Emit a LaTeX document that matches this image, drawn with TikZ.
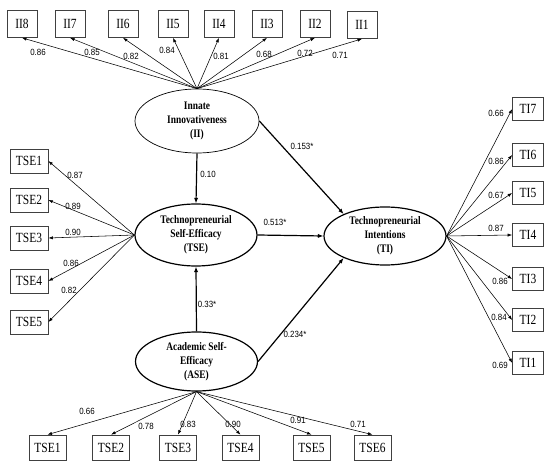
\documentclass[tikz,border=0pt]{standalone}
\usepackage{fontspec}
\setmainfont{Liberation Serif}
\newfontfamily\boxfont[FakeStretch=0.82]{Liberation Serif}
\newfontfamily\latfont[FakeStretch=0.82]{Liberation Serif}
\newfontfamily\numfont[FakeStretch=0.88]{Liberation Sans}
\usetikzlibrary{arrows.meta,shapes.geometric}
\tikzset{
  ind/.style={draw=black!75, line width=0.7pt, inner sep=0pt, font=\boxfont\fontsize{14}{14}\selectfont},
  topbox/.style={ind, minimum width=30pt, minimum height=27pt},
  leftbox/.style={ind, minimum width=38pt, minimum height=24pt},
  rightbox/.style={ind, minimum width=31pt, minimum height=23pt},
  botbox/.style={ind, minimum width=37pt, minimum height=25pt},
  lat/.style={ellipse, draw, line width=1.2pt, inner sep=0pt, align=center,
    font=\latfont\bfseries\fontsize{11.5}{14}\selectfont},
  coef/.style={font=\numfont\fontsize{9}{10}\selectfont, inner sep=0pt},
  load/.style={-{Latex[length=4.5pt,width=3.2pt]}, line width=0.55pt},
  spath/.style={-{Latex[length=5.5pt,width=4.2pt]}, line width=1.2pt}
}
\begin{document}
\begin{tikzpicture}[x=1pt,y=1pt]
\useasboundingbox (0,0) rectangle (550,-468);
% latent variables
\node[lat, line width=0.7pt, minimum width=124pt, minimum height=64pt] (ii) at (197,-121) {Innate\\Innovativeness\\(II)};
\node[lat, minimum width=122pt, minimum height=62pt] (tse) at (196,-235) {Technopreneurial\\Self-Efficacy\\(TSE)};
\node[lat, minimum width=122pt, minimum height=58pt] (ti) at (385,-236) {Technopreneurial\\Intentions\\(TI)};
\node[lat, minimum width=122pt, minimum height=59pt] (ase) at (196.5,-361.5) {Academic Self-\\Efficacy\\(ASE)};
% top indicators
\node[topbox] (ii8) at (22,-24) {II8};
\node[topbox] (ii7) at (70,-24) {II7};
\node[topbox] (ii6) at (123,-24) {II6};
\node[topbox] (ii5) at (173,-24) {II5};
\node[topbox] (ii4) at (219,-24) {II4};
\node[topbox] (ii3) at (267,-24) {II3};
\node[topbox] (ii2) at (315,-24) {II2};
\node[topbox] (ii1) at (362,-25) {II1};
% left indicators
\node[leftbox] (tsea) at (29,-161) {TSE1};
\node[leftbox] (tseb) at (29,-200) {TSE2};
\node[leftbox] (tsec) at (29,-238) {TSE3};
\node[leftbox] (tsed) at (29,-281) {TSE4};
\node[leftbox] (tsee) at (29,-322) {TSE5};
% right indicators
\node[rightbox] (ti7) at (528,-109) {TI7};
\node[rightbox] (ti6) at (528,-155) {TI6};
\node[rightbox] (ti5) at (528,-193) {TI5};
\node[rightbox] (ti4) at (528,-235) {TI4};
\node[rightbox] (ti3) at (528,-279) {TI3};
\node[rightbox] (ti2) at (528,-320) {TI2};
\node[rightbox] (ti1) at (528,-363) {TI1};
% bottom indicators
\node[botbox] (asea) at (47.5,-447.5) {TSE1};
\node[botbox] (aseb) at (111,-447.5) {TSE2};
\node[botbox] (asec) at (178,-447.5) {TSE3};
\node[botbox] (ased) at (240.5,-447.5) {TSE4};
\node[botbox] (asee) at (311.5,-447.5) {TSE5};
\node[botbox] (asef) at (372.5,-447.5) {TSE6};
% loadings
\foreach \b in {ii8,ii7,ii6,ii5,ii4,ii3,ii2,ii1}
  \draw[load] (ii.north) -- (\b.south);
\foreach \b in {tsea,tseb,tsec,tsed,tsee}
  \draw[load] (tse.west) -- (\b.east);
\foreach \b in {ti7,ti6,ti5,ti4,ti3,ti2,ti1}
  \draw[load] (ti.east) -- (\b.west);
\foreach \b in {asea,aseb,asec,ased,asee,asef}
  \draw[load] (ase.south) -- (\b.north);
% structural paths
\draw[spath] (ii.south) -- (tse.north);
\draw[spath] (ase.north) -- (tse.south);
\draw[spath] (tse.east) -- (ti.west);
\draw[spath] (ii.east) -- (ti.152);
\draw[spath] (ase.east) -- (ti.208);
% coefficient labels
\node[coef] (l1) at (38,-52) {0.86};
\node[coef] (l2) at (92,-52) {0.85};
\node[coef] (l3) at (131,-56) {0.82};
\node[coef] (l4) at (167,-50) {0.84};
\node[coef] (l5) at (221,-56) {0.81};
\node[coef] (l6) at (264,-54) {0.68};
\node[coef] (l7) at (305,-53) {0.72};
\node[coef] (l8) at (340,-55) {0.71};
\node[coef] (m1) at (75,-175) {0.87};
\node[coef] (m2) at (73,-206) {0.89};
\node[coef] (m3) at (73,-232) {0.90};
\node[coef] (m4) at (71,-263) {0.86};
\node[coef] (m5) at (69,-290) {0.82};
\node[coef] (r7) at (496,-113) {0.66};
\node[coef] (r6) at (496,-161) {0.86};
\node[coef] (r5) at (496,-195) {0.67};
\node[coef] (r4) at (496,-228) {0.87};
\node[coef] (r3) at (500,-281) {0.86};
\node[coef] (r2) at (499,-317) {0.84};
\node[coef] (r1) at (500,-365) {0.69};
\node[coef] (b1) at (87,-411) {0.66};
\node[coef] (b2) at (146,-426) {0.78};
\node[coef] (b3) at (188,-424) {0.83};
\node[coef] (b4) at (233,-424) {0.90};
\node[coef] (b5) at (298,-420) {0.91};
\node[coef] (b6) at (358,-424) {0.71};
\node[coef] (s1) at (208,-174) {0.10};
\node[coef] (s2) at (207,-304) {0.33*};
\node[coef] (s3) at (275,-222) {0.513*};
\node[coef] (s4) at (302,-146) {0.153*};
\node[coef] (s5) at (295,-334) {0.234*};
\end{tikzpicture}
\end{document}
